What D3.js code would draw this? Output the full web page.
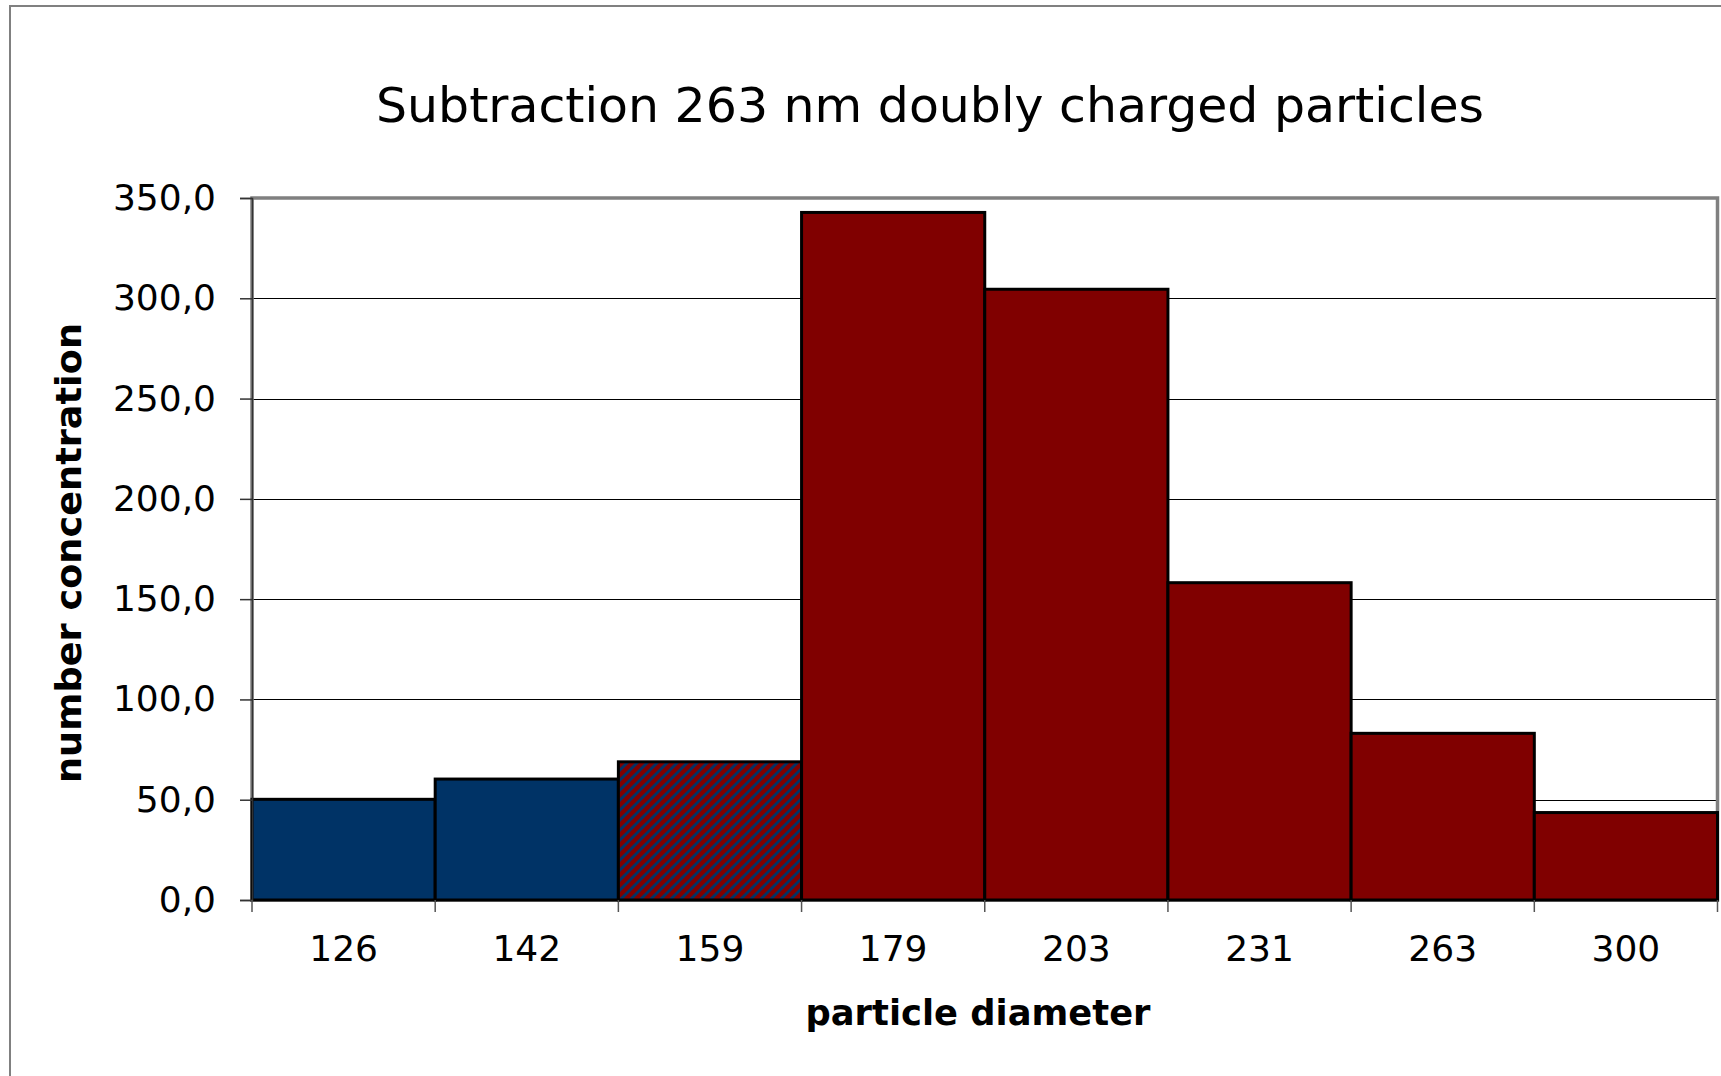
<!DOCTYPE html>
<html>
<head>
<meta charset="utf-8">
<script src="https://cdn.jsdelivr.net/npm/d3@7"></script>
<style>
  body { margin: 0; background: #fff; }
  svg { display: block; }
</style>
</head>
<body>
<script>
// data
const categories = ['126', '142', '159', '179', '203', '231', '263', '300'];
const values = [50.2, 60.3, 68.9, 342.8, 304.5, 158.2, 83.1, 43.6];
const groups = ['measured', 'measured', 'mixed', 'subtracted', 'subtracted', 'subtracted', 'subtracted', 'subtracted'];
const yTicks = [0, 50, 100, 150, 200, 250, 300, 350];

const width = 1721, height = 1076;
const margin = { top: 198, bottom: 176, left: 252, right: 3.5 };

const svg = d3.select('body').append('svg')
  .attr('width', width).attr('height', height)
  .style('font-family', 'Verdana, "DejaVu Sans", sans-serif');

// hatched fill for the mixed bin
const defs = svg.append('defs');
const pat = defs.append('pattern')
  .attr('id', 'hatch')
  .attr('patternUnits', 'userSpaceOnUse')
  .attr('width', 10).attr('height', 10);
pat.append('rect').attr('width', 10).attr('height', 10).attr('fill', '#800000');
pat.append('path')
  .attr('d', 'M-3,3 L3,-3 M0,10 L10,0 M7,13 L13,7')
  .attr('stroke', '#003366').attr('stroke-width', 2.8);

const fillFor = { measured: '#003366', mixed: 'url(#hatch)', subtracted: '#800000' };

// chart area border
svg.append('rect')
  .attr('x', 10).attr('y', 6)
  .attr('width', width + 20).attr('height', height + 20)
  .attr('fill', 'none').attr('stroke', '#808080').attr('stroke-width', 2);

const yscale = d3.scaleLinear()
  .domain([0, 350])
  .range([height - margin.bottom, margin.top]);

const xscale = d3.scaleBand()
  .domain(categories)
  .range([margin.left, width - margin.right])
  .padding(0);

// gridlines
svg.append('g')
  .attr('transform', `translate(${margin.left}, 0)`)
  .call(d3.axisLeft(yscale).tickValues(yTicks.slice(1, -1)).tickSize(-(width - margin.right - margin.left)).tickFormat(''))
  .call(g => g.select('.domain').remove())
  .call(g => g.selectAll('line').attr('stroke', '#000').attr('stroke-width', 1).attr('shape-rendering', 'crispEdges'));

// plot area border
svg.append('rect')
  .attr('x', margin.left).attr('y', margin.top)
  .attr('width', width - margin.right - margin.left)
  .attr('height', height - margin.bottom - margin.top)
  .attr('fill', 'none').attr('stroke', '#808080').attr('stroke-width', 3.5);

// bars
svg.selectAll('rect.bar')
  .data(values)
  .enter()
  .append('rect')
  .attr('class', 'bar')
  .attr('x', (d, i) => xscale(categories[i]))
  .attr('y', d => yscale(d))
  .attr('width', xscale.bandwidth())
  .attr('height', d => yscale(0) - yscale(d))
  .attr('fill', (d, i) => fillFor[groups[i]])
  .attr('stroke', '#000')
  .attr('stroke-width', 3);

// y axis
const yaxis = svg.append('g')
  .attr('transform', `translate(${margin.left}, 0)`)
  .call(d3.axisLeft(yscale).tickValues(yTicks).tickSize(12).tickPadding(24)
    .tickFormat(d => d3.format('.1f')(d).replace('.', ',')));
yaxis.select('.domain').attr('stroke', '#333').attr('stroke-width', 1.5);
yaxis.selectAll('line').attr('stroke', '#333').attr('stroke-width', 1.5);
yaxis.selectAll('text').attr('fill', '#000').style('font-size', '36px').style('font-family', 'Verdana, "DejaVu Sans", sans-serif');

// x axis labels
const xaxis = svg.append('g')
  .attr('transform', `translate(0, ${height - margin.bottom})`)
  .call(d3.axisBottom(xscale).tickSize(0).tickPadding(35));
xaxis.select('.domain').remove();
xaxis.selectAll('text').attr('fill', '#000').style('font-size', '36px').style('font-family', 'Verdana, "DejaVu Sans", sans-serif');

// x tick marks at bin edges
const edges = categories.map(c => xscale(c)).concat([xscale.range()[1]]);
svg.append('g').selectAll('line')
  .data(edges)
  .enter()
  .append('line')
  .attr('x1', d => d).attr('x2', d => d)
  .attr('y1', height - margin.bottom).attr('y2', height - margin.bottom + 12)
  .attr('stroke', '#555').attr('stroke-width', 1.5);

// title and axis titles
svg.append('text')
  .attr('x', 930).attr('y', 122)
  .attr('text-anchor', 'middle')
  .attr('textLength', 1108).attr('lengthAdjust', 'spacingAndGlyphs')
  .style('font-size', '48px')
  .text('Subtraction 263 nm doubly charged particles');

svg.append('text')
  .attr('x', 978).attr('y', 1025)
  .attr('text-anchor', 'middle')
  .attr('textLength', 345).attr('lengthAdjust', 'spacingAndGlyphs')
  .style('font-size', '36px').style('font-weight', 'bold')
  .text('particle diameter');

svg.append('text')
  .attr('transform', 'translate(81, 553) rotate(-90)')
  .attr('text-anchor', 'middle')
  .attr('textLength', 460).attr('lengthAdjust', 'spacingAndGlyphs')
  .style('font-size', '36px').style('font-weight', 'bold')
  .text('number concentration');
</script>
</body>
</html>
